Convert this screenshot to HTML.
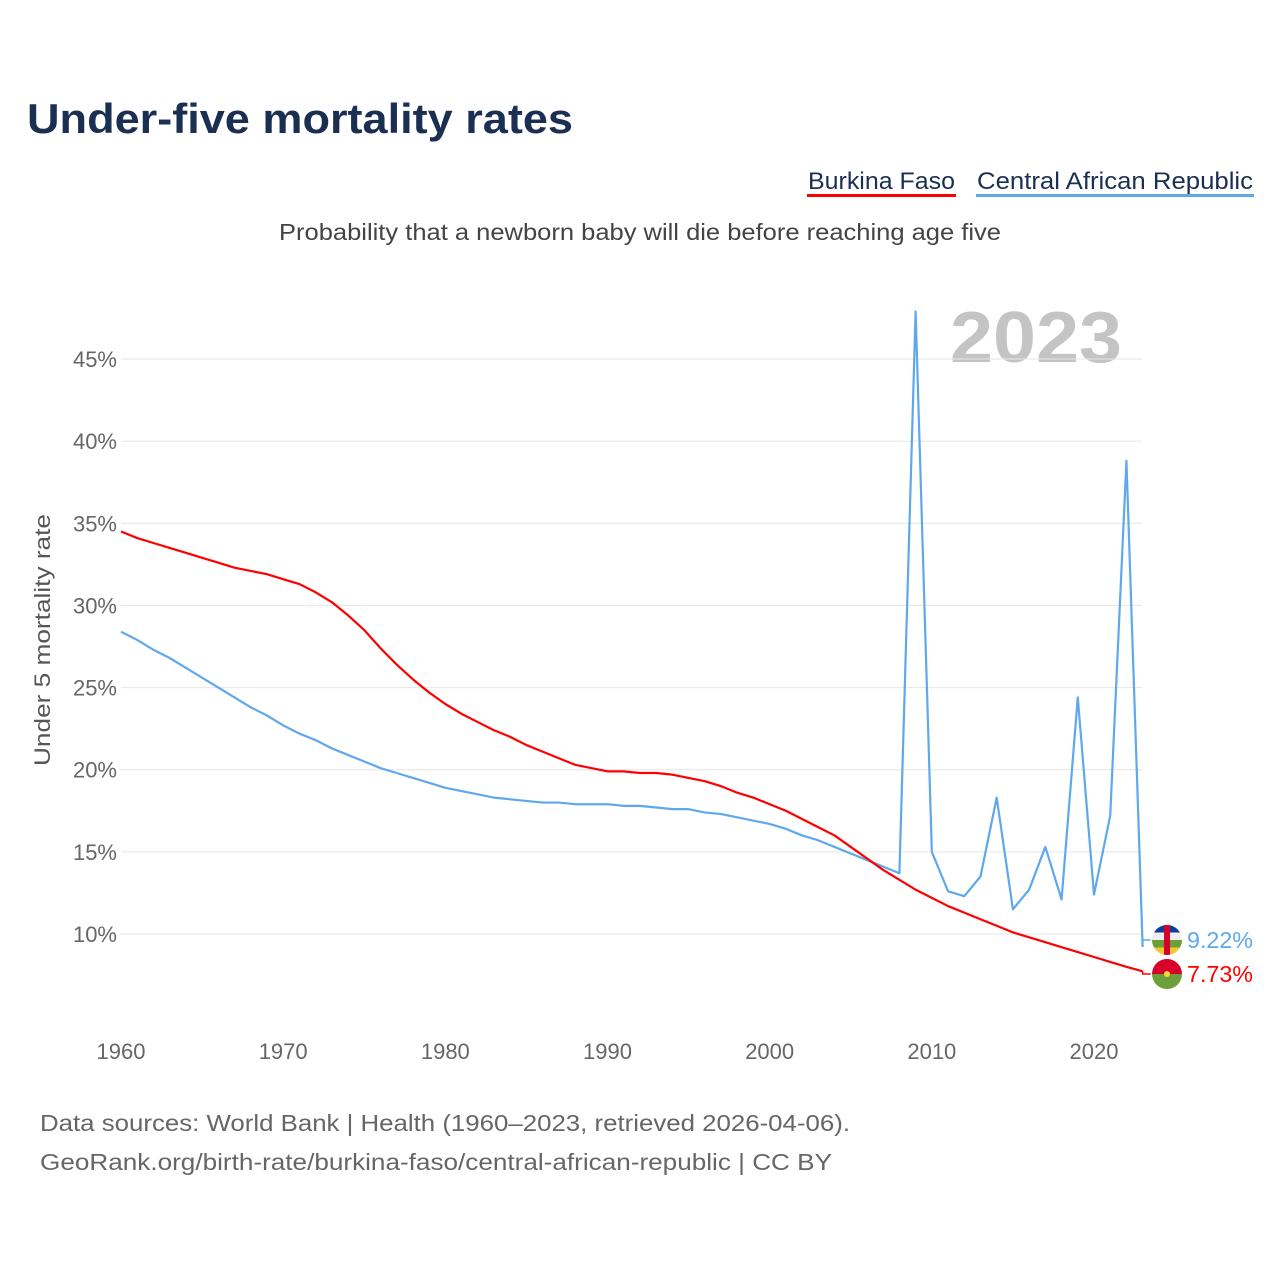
<!DOCTYPE html>
<html><head><meta charset="utf-8"><style>
body{margin:0;background:#fff;font-family:"Liberation Sans",sans-serif;}
#wrap{position:relative;width:1280px;height:1280px;overflow:hidden;}
</style></head><body>
<div id="wrap">
<svg id="svg" width="1280" height="1280" style="position:absolute;left:0;top:0">
<text x="27" y="133" font-size="42" font-weight="bold" fill="#1b2f52" textLength="546" lengthAdjust="spacingAndGlyphs">Under-five mortality rates</text>
<g>
<text x="808" y="189" font-size="24" fill="#1b2f52" textLength="147" lengthAdjust="spacingAndGlyphs">Burkina Faso</text>
<rect x="807" y="194" width="149" height="3" fill="#ff0000"/></g>
<g>
<text x="977" y="189" font-size="24" fill="#1b2f52" textLength="276" lengthAdjust="spacingAndGlyphs">Central African Republic</text>
<rect x="976" y="194" width="278" height="3" fill="#5fa8ec"/></g>
<text x="279" y="240" font-size="23" fill="#444" textLength="722" lengthAdjust="spacingAndGlyphs">Probability that a newborn baby will die before reaching age five</text>
<text x="950" y="362" font-size="72" font-weight="bold" fill="#c4c4c4" textLength="172" lengthAdjust="spacingAndGlyphs">2023</text>
<text transform="translate(50,640) rotate(-90)" font-size="22" fill="#555" text-anchor="middle" textLength="252" lengthAdjust="spacingAndGlyphs">Under 5 mortality rate</text>
<g id="grid"></g><g id="lines"></g><g id="ends"></g>
<text x="40" y="1131" font-size="23" fill="#666" textLength="810" lengthAdjust="spacingAndGlyphs">Data sources: World Bank | Health (1960–2023, retrieved 2026-04-06).</text>
<text x="40" y="1170" font-size="23" fill="#666" textLength="792" lengthAdjust="spacingAndGlyphs">GeoRank.org/birth-rate/burkina-faso/central-african-republic | CC BY</text>
</svg></div>
<script>
const years=[];for(let y=1960;y<=2023;y++)years.push(y);
const burkina=[34.5,34.1,33.8,33.5,33.2,32.9,32.6,32.3,32.1,31.9,31.6,31.3,30.8,30.2,29.4,28.5,27.4,26.4,25.5,24.7,24.0,23.4,22.9,22.4,22.0,21.5,21.1,20.7,20.3,20.1,19.9,19.9,19.8,19.8,19.7,19.5,19.3,19.0,18.6,18.3,17.9,17.5,17.0,16.5,16.0,15.3,14.6,13.9,13.3,12.7,12.2,11.7,11.3,10.9,10.5,10.1,9.8,9.5,9.2,8.9,8.6,8.3,8.0,7.73];
const car=[28.4,27.9,27.3,26.8,26.2,25.6,25.0,24.4,23.8,23.3,22.7,22.2,21.8,21.3,20.9,20.5,20.1,19.8,19.5,19.2,18.9,18.7,18.5,18.3,18.2,18.1,18.0,18.0,17.9,17.9,17.9,17.8,17.8,17.7,17.6,17.6,17.4,17.3,17.1,16.9,16.7,16.4,16.0,15.7,15.3,14.9,14.5,14.1,13.7,47.9,15.0,12.6,12.3,13.5,18.3,11.5,12.7,15.3,12.1,24.4,12.4,17.2,38.8,9.22];
const yTicks=[10,15,20,25,30,35,40,45];
const xTicks=[1960,1970,1980,1990,2000,2010,2020];
const NS="http://www.w3.org/2000/svg";
const X=y=>121+(y-1960)*(1094-121)/60;
const Y=v=>934-(v-10)*(934-359)/35;
function mk(t,a,p){const e=document.createElementNS(NS,t);for(const k in a)e.setAttribute(k,a[k]);p.appendChild(e);return e;}
const grid=document.getElementById('grid');
yTicks.forEach(v=>{
 const l=mk('line',{x1:121,x2:1142,y1:Y(v),y2:Y(v),stroke:'#e6e6e6','stroke-width':1},grid);
 
 
 const t=mk('text',{x:117,y:Y(v)+8,'font-size':22,fill:'#666','text-anchor':'end'},grid);t.textContent=v+'%';
 
 
});
xTicks.forEach(v=>{
 const t=mk('text',{x:X(v),y:1059,'font-size':22,fill:'#666','text-anchor':'middle'},grid);t.textContent=v;
 
 
});
const lines=document.getElementById('lines');
function line(d,c,n){const p=mk('polyline',{points:d.map((v,i)=>X(years[i])+','+Y(v)).join(' '),fill:'none',stroke:c,'stroke-width':2.2,'stroke-linejoin':'round'},lines);
 
 }
line(car,'#5fa8ec','line-central-african-republic');
line(burkina,'#ff0000','line-burkina-faso');
const ends=document.getElementById('ends');
function end(v,ly,c,n,flag){
 const x0=X(2023),y0=Y(v);
 mk('polyline',{points:`${x0},${y0} ${x0},${ly} ${x0+8},${ly}`,fill:'none',stroke:c,'stroke-width':1.5},ends);
 const g=mk('g',{},ends);
 
 
 flag(g,1167,ly);
 const t=mk('text',{x:1187,y:ly+8,'font-size':23,fill:c,textLength:66,lengthAdjust:'spacingAndGlyphs'},ends);t.textContent=v.toFixed(2)+'%';
 
 
}
end(car[car.length-1],940,'#5fa8ec','central-african-republic',(g,cx,cy)=>{
 const cp=mk('clipPath',{id:'c1'},g);mk('circle',{cx,cy,r:15},cp);
 const h=mk('g',{'clip-path':'url(#c1)'},g);
 [['#0a3ea0',-15],['#eeeeee',-7.5],['#6a9f3a',0],['#f6c838',7.5]].forEach(([f,o])=>mk('rect',{x:cx-15,y:cy+o,width:30,height:7.5,fill:f},h));
 mk('rect',{x:cx-3,y:cy-15,width:6,height:30,fill:'#d6002a'},h);
});
end(burkina[burkina.length-1],974,'#ff0000','burkina-faso',(g,cx,cy)=>{
 const cp=mk('clipPath',{id:'c2'},g);mk('circle',{cx,cy,r:15},cp);
 const h=mk('g',{'clip-path':'url(#c2)'},g);
 mk('rect',{x:cx-15,y:cy-15,width:30,height:15,fill:'#d6002a'},h);
 mk('rect',{x:cx-15,y:cy,width:30,height:15,fill:'#6a9f3a'},h);
 mk('circle',{cx,cy,r:3,fill:'#f6d838'},h);
});
</script>
</body></html>
